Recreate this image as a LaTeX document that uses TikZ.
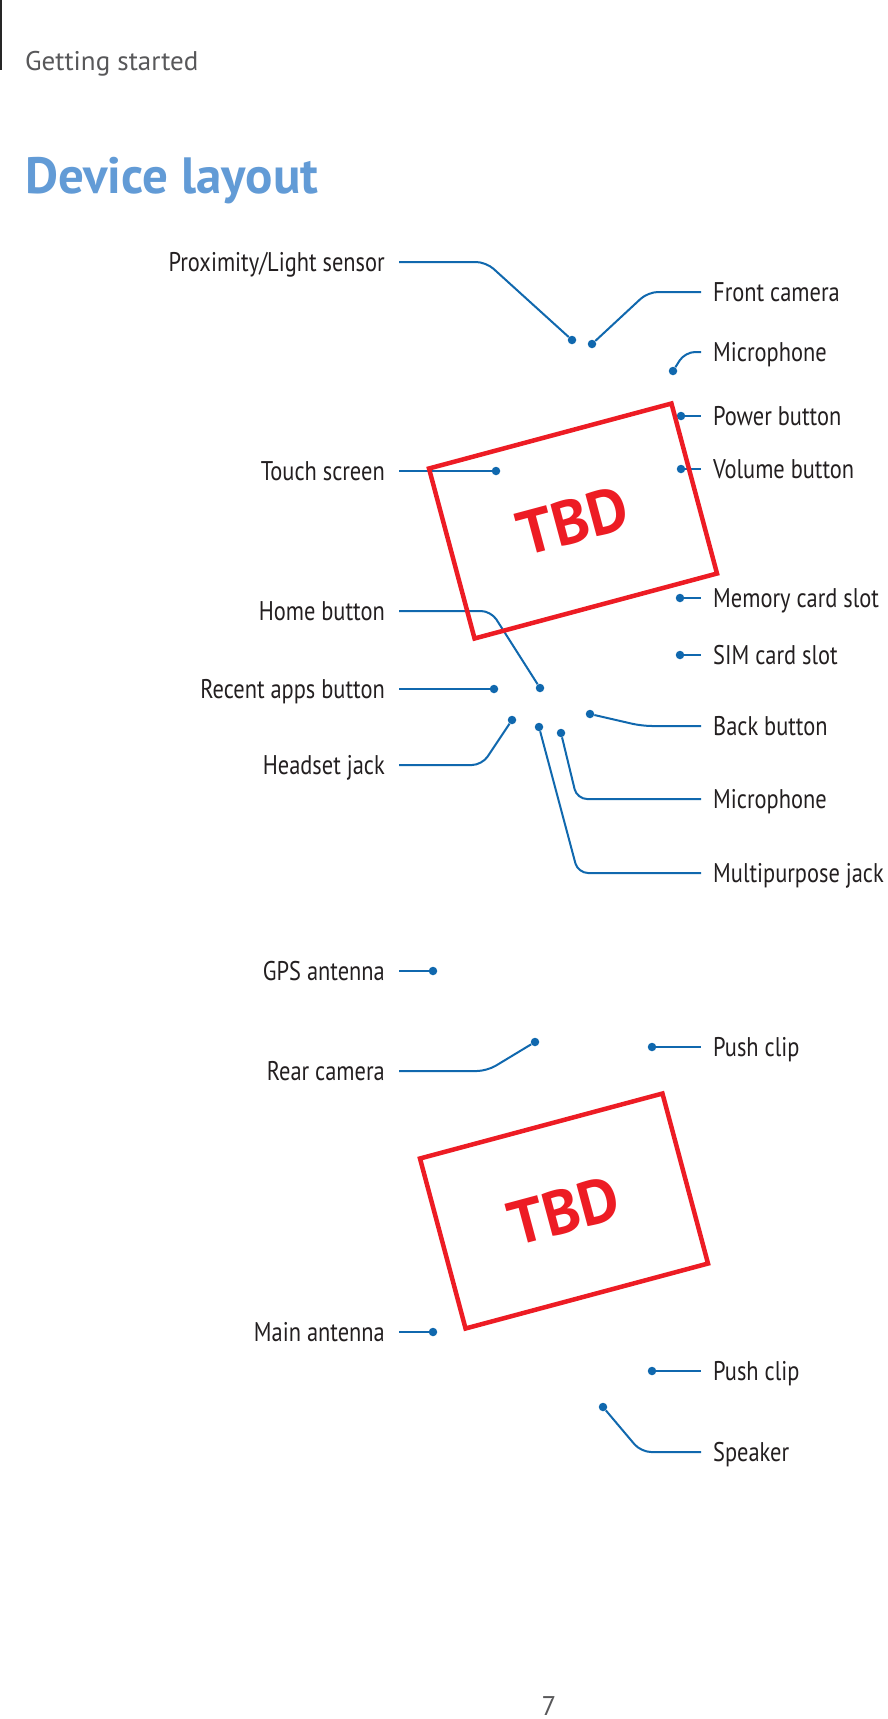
\documentclass[tikz,border=0pt]{standalone}
\usepackage{fontspec}
\setmainfont{PT Sans}[FakeStretch=0.83]
\newfontfamily\plainfont{PT Sans}
\usepackage{tikz}
\definecolor{leadBlue}{RGB}{16,104,174}
\definecolor{tbdRed}{RGB}{237,28,36}
\definecolor{textBlack}{RGB}{35,31,32}
\definecolor{headGray}{RGB}{88,88,90}
\definecolor{titleBlue}{RGB}{98,155,214}
\tikzset{
  partDot/.style={circle,fill=leadBlue,inner sep=0pt,minimum size=8.5pt},
  leftLbl/.style={anchor=east,inner xsep=14pt,inner ysep=0pt,text=textBlack,
                  text height=20pt,text depth=2pt,font=\fontsize{27}{30}\selectfont},
  rightLbl/.style={anchor=west,inner xsep=12pt,inner ysep=0pt,text=textBlack,
                   text height=20pt,text depth=2pt,font=\fontsize{27}{30}\selectfont},
  leadLine/.style={draw=leadBlue,line width=2pt,rounded corners=10pt},
  tbdBox/.style={draw=tbdRed,line width=4.5pt,rotate=15,minimum width=251pt,
                 minimum height=176pt,text=tbdRed,
                 font=\plainfont\bfseries\fontsize{62}{62}\selectfont},
}
\begin{document}
\begin{tikzpicture}[x=1pt,y=-1pt]
  \useasboundingbox[fill=white] (0,0) rectangle (887,1719);
  % page header
  \draw[line width=1.5pt,black!85] (1,0) -- (1,70);
  \node[font=\plainfont\fontsize{27}{30}\selectfont,text=headGray,anchor=base west,
        inner sep=0pt] (chapHead) at (25,70) {Getting started};
  \node[font=\plainfont\bfseries\fontsize{51}{56}\selectfont,text=titleBlue,anchor=base west,
        inner sep=0pt] (pageTitle) at (25,193) {Device layout};
  % callouts with a bend
  \node[partDot] (prox-dot) at (572,340) {};
  \node[leftLbl] (prox-lbl) at (399,262) {Proximity/Light sensor};
  \draw[leadLine] (prox-lbl.east) -- (486,262) -- (prox-dot);
  \foreach \n/\x/\y/\ly/\cx/\t in {home/540/688/611/491/Home button,
      headset/512/720/765/482/Headset jack, rear/535/1042/1071/487/Rear camera}{
    \node[partDot] (\n-dot) at (\x,\y) {};
    \node[leftLbl] (\n-lbl) at (399,\ly) {\t};
    \draw[leadLine] (\n-lbl.east) -- (\cx,\ly) -- (\n-dot);
  }
  \foreach \n/\x/\y/\ly/\cx/\t in {cam/592/344/292/648/Front camera,
      micTop/673/371/352/685/Microphone, back/590/714/726/642/Back button,
      micBot/561/733/799/577/Microphone, multi/539/727/873/578/Multipurpose jack,
      speaker/603/1407/1452/641/Speaker}{
    \node[partDot] (\n-dot) at (\x,\y) {};
    \node[rightLbl] (\n-lbl) at (701,\ly) {\t};
    \draw[leadLine] (\n-lbl.west) -- (\cx,\ly) -- (\n-dot);
  }
  % straight callouts
  \foreach \n/\x/\y/\t in {touch/496/471/Touch screen, recent/494/689/Recent apps button,
      gps/433/971/GPS antenna, mainAnt/433/1332/Main antenna}{
    \node[partDot] (\n-dot) at (\x,\y) {};
    \node[leftLbl] (\n-lbl) at (399,\y) {\t};
    \draw[leadLine] (\n-lbl.east) -- (\n-dot);
  }
  \foreach \n/\x/\y/\t in {pwr/681/416/Power button, vol/681/469/Volume button,
      mem/680/598/Memory card slot, sim/680/655/SIM card slot,
      clipTop/652/1047/Push clip, clipBot/652/1371/Push clip}{
    \node[partDot] (\n-dot) at (\x,\y) {};
    \node[rightLbl] (\n-lbl) at (701,\y) {\t};
    \draw[leadLine] (\n-dot) -- (\n-lbl.west);
  }
  % placeholder pictures
  \node[tbdBox] (frontView) at (573,521) {TBD};
  \node[tbdBox] (backView) at (564,1211) {TBD};
  % page number
  \node[font=\plainfont\fontsize{27}{30}\selectfont,text=headGray,anchor=base,
        inner sep=0pt] (pageNum) at (549,1715) {7};
\end{tikzpicture}
\end{document}
